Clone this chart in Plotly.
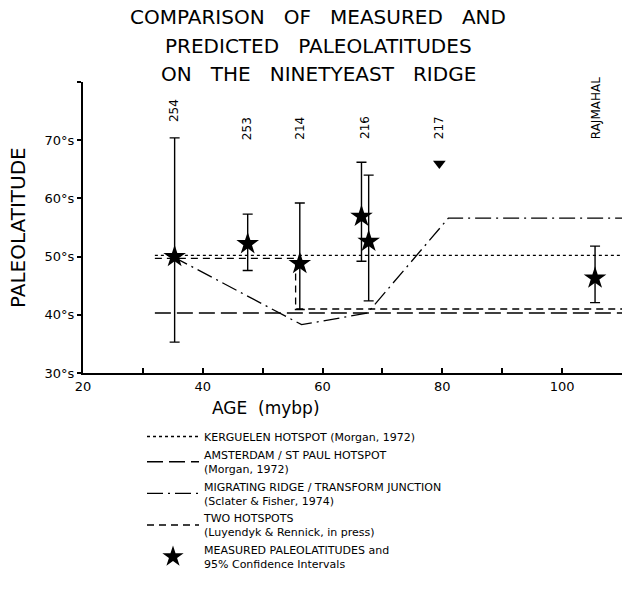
import plotly.graph_objects as go

# ---- data ----
site_age = [35.3, 47.5, 56.2, 66.5, 67.7, 105.5]
site_lat = [50.0, 52.2, 48.8, 56.9, 52.6, 46.3]
site_upper = [70.4, 57.3, 59.2, 66.2, 64.0, 51.8]
site_lower = [35.3, 47.6, 40.9, 49.2, 42.4, 42.1]

label_text = ["254", "253", "214", "216", "217", "RAJMAHAL"]
label_age = [35.3, 47.5, 56.2, 67.1, 79.5, 105.8]
label_lat = [72.8, 69.7, 69.8, 69.8, 69.8, 69.8]

arrow_age = [79.5]
arrow_lat = [66.0]

kerg_age = [32, 110]
kerg_lat = [50.2, 50.2]
ams_age = [32, 110]
ams_lat = [40.3, 40.3]
two_age = [32, 55.5, 55.5, 110]
two_lat = [49.7, 49.7, 41.0, 41.0]
mig_age = [35, 56.5, 67.5, 81, 110]
mig_lat = [50.0, 38.3, 40.3, 56.6, 56.6]

x_ticks = [20, 30, 40, 50, 60, 70, 80, 90, 100]
x_ticktext = ["20", "", "40", "", "60", "", "80", "", "100"]
y_ticks = [30, 40, 50, 60, 70, 80]
y_ticktext = ["30°s", "40°s", "50°s", "60°s", "70°s", ""]

FONT = "DejaVu Sans"
W, H = 622, 601
L, R, T, B = 83, 0, 82, 228
pw, ph = W - L - R, H - T - B


def px(x):
    return (x - L) / pw


def py(y):
    return (H - B - y) / ph


fig = go.Figure()

fig.add_trace(go.Scatter(x=kerg_age, y=kerg_lat, mode="lines",
                         line=dict(color="black", width=1.3, dash="dot"),
                         name="KERGUELEN HOTSPOT (Morgan, 1972)", legendgroup="a"))
fig.add_trace(go.Scatter(x=ams_age, y=ams_lat, mode="lines",
                         line=dict(color="black", width=1.5, dash="16px,6px"),
                         name="AMSTERDAM / ST PAUL HOTSPOT<br>(Morgan, 1972)", legendgroup="b"))
fig.add_trace(go.Scatter(x=mig_age, y=mig_lat, mode="lines",
                         line=dict(color="black", width=1.3, dash="16px,5px,2px,5px"),
                         name="MIGRATING RIDGE / TRANSFORM JUNCTION<br>(Sclater & Fisher, 1974)", legendgroup="c"))
fig.add_trace(go.Scatter(x=two_age, y=two_lat, mode="lines",
                         line=dict(color="black", width=1.3, dash="7px,5px"),
                         name="TWO HOTSPOTS<br>(Luyendyk & Rennick, in press)", legendgroup="d"))
fig.add_trace(go.Scatter(x=site_age, y=site_lat, mode="markers",
                         marker=dict(symbol="star", size=17, color="black"),
                         error_y=dict(type="data", symmetric=False,
                                      array=[u - v for u, v in zip(site_upper, site_lat)],
                                      arrayminus=[v - l for v, l in zip(site_lat, site_lower)],
                                      color="black", thickness=1.4, width=5),
                         name="MEASURED PALEOLATITUDES and<br>95% Confidence Intervals", legendgroup="e"))
fig.add_trace(go.Scatter(x=arrow_age, y=arrow_lat, mode="markers",
                         marker=dict(symbol="triangle-down", size=11, color="black"),
                         showlegend=False))

for t, a, l in zip(label_text, label_age, label_lat):
    fig.add_annotation(x=a, y=l, text=t, textangle=-90, showarrow=False,
                       xanchor="center", yanchor="bottom",
                       font=dict(family=FONT, size=12, color="black"))

title_lines = ["COMPARISON   OF   MEASURED   AND",
               "PREDICTED   PALEOLATITUDES",
               "ON   THE   NINETYEAST   RIDGE"]
title_y = [17, 46, 74]
for t, yy in zip(title_lines, title_y):
    fig.add_annotation(xref="paper", yref="paper", x=px(318), y=py(yy), text=t,
                       showarrow=False, xanchor="center", yanchor="middle",
                       font=dict(family=FONT, size=20, color="black"))

fig.add_annotation(xref="paper", yref="paper", x=px(266), y=py(408), text="AGE  (mybp)",
                   showarrow=False, xanchor="center", yanchor="middle",
                   font=dict(family=FONT, size=17, color="black"))
fig.add_annotation(xref="paper", yref="paper", x=px(18), y=py(228), text="PALEOLATITUDE",
                   showarrow=False, textangle=-90, xanchor="center", yanchor="middle",
                   font=dict(family=FONT, size=20, color="black"))

fig.update_layout(
    width=W, height=H,
    margin=dict(l=L, r=R, t=T, b=B),
    paper_bgcolor="white", plot_bgcolor="white",
    font=dict(family=FONT, color="black"),
    showlegend=True,
    legend=dict(x=px(142), y=py(422), xanchor="left", yanchor="top",
                font=dict(family=FONT, size=11, color="black"),
                tracegroupgap=7, itemwidth=52, bgcolor="rgba(0,0,0,0)",
                traceorder="normal"),
    xaxis=dict(range=[20, 110], tickvals=x_ticks, ticktext=x_ticktext,
               ticks="inside", ticklen=5, tickwidth=1.5, tickcolor="black",
               showline=True, linecolor="black", linewidth=2, showgrid=False,
               zeroline=False, tickfont=dict(family=FONT, size=13), automargin=False),
    yaxis=dict(range=[30, 80], tickvals=y_ticks, ticktext=y_ticktext,
               ticks="outside", ticklen=4, tickwidth=1.5, tickcolor="black",
               showline=True, linecolor="black", linewidth=2, showgrid=False,
               zeroline=False, tickfont=dict(family=FONT, size=13), automargin=False),
)

fig.write_html("out.html", config={"displayModeBar": False},
               post_script="document.body.style.margin='0';document.body.style.overflow='hidden';")
